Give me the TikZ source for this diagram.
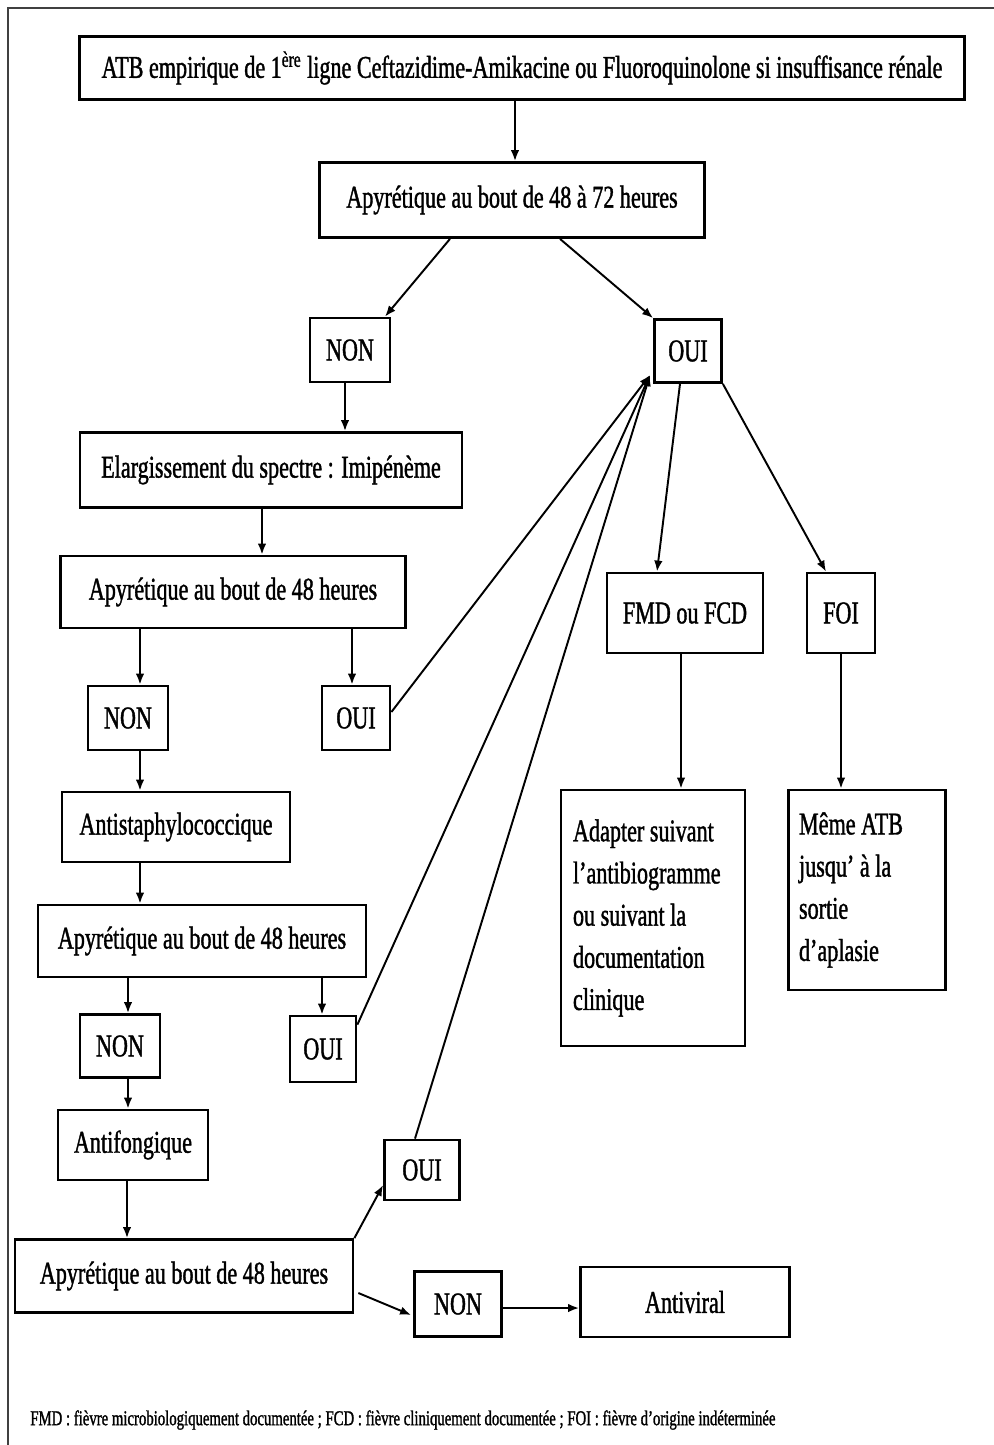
\documentclass[tikz,border=0pt]{standalone}
\usepackage{fontspec}
\setmainfont{Liberation Serif}[FakeStretch=0.7, FakeBold=1.2]
\usetikzlibrary{arrows.meta, calc}

\begin{document}
\begin{tikzpicture}[x=0.02cm, y=-0.02cm,
    box/.style={draw=black, line width=1.6pt, inner sep=2pt, font=\fontsize{18}{24}\selectfont},
    arr/.style={-{Latex[length=2.2mm, width=1.7mm]}, line width=1.1pt}]
	\useasboundingbox (0,0) rectangle (994,1445);
	% Frame
	\draw[line width=1pt, black!75] (8,1445) -- (8,8) -- (994,8);
	% Nodes
	\node[box, minimum width=17.7cm, minimum height=1.26cm] (atb) at (522,68) {ATB empirique de 1\textsuperscript{ère} ligne Ceftazidime-Amikacine ou Fluoroquinolone si insuffisance rénale};
	\node[box, minimum width=7.7cm, minimum height=1.5cm] (apy0) at (512,200) {Apyrétique au bout de 48 à 72 heures};
	\node[box, minimum width=1.6cm, minimum height=1.28cm] (non1) at (350,350) {NON};
	\node[box, minimum width=1.34cm, minimum height=1.26cm] (oui1) at (688,351) {OUI};
	\node[box, minimum width=7.64cm, minimum height=1.5cm] (elarg) at (271,470) {Elargissement du spectre : Imipénème};
	\node[box, minimum width=6.9cm, minimum height=1.44cm] (apy1) at (233,592) {Apyrétique au bout de 48 heures};
	\node[box, minimum width=1.6cm, minimum height=1.28cm] (non2) at (128,718) {NON};
	\node[box, minimum width=1.36cm, minimum height=1.28cm] (oui2) at (356,718) {OUI};
	\node[box, minimum width=4.56cm, minimum height=1.4cm] (antis) at (176,827) {Antistaphylococcique};
	\node[box, minimum width=6.56cm, minimum height=1.44cm] (apy2) at (202,941) {Apyrétique au bout de 48 heures};
	\node[box, minimum width=1.6cm, minimum height=1.26cm] (non3) at (120,1046) {NON};
	\node[box, minimum width=1.32cm, minimum height=1.32cm] (oui3) at (323,1049) {OUI};
	\node[box, minimum width=3.0cm, minimum height=1.4cm] (antif) at (133,1145) {Antifongique};
	\node[box, minimum width=6.76cm, minimum height=1.46cm] (apy3) at (184,1276) {Apyrétique au bout de 48 heures};
	\node[box, minimum width=1.5cm, minimum height=1.2cm] (oui4) at (422,1170) {OUI};
	\node[box, minimum width=1.74cm, minimum height=1.3cm] (non4) at (458,1304) {NON};
	\node[box, minimum width=4.18cm, minimum height=1.4cm] (antiv) at (685,1302) {Antiviral};
	\node[box, minimum width=3.12cm, minimum height=1.6cm] (fmd) at (685,613) {FMD ou FCD};
	\node[box, minimum width=1.36cm, minimum height=1.6cm] (foi) at (841,613) {FOI};
	\node[box, minimum width=3.68cm, minimum height=5.12cm, text width=3.2cm, align=flush left] (adapt) at (653,918) {Adapter suivant\\l'antibiogramme\\ou suivant la\\documentation\\clinique};
	\node[box, minimum width=3.14cm, minimum height=4.0cm, text width=2.72cm, align=flush left] (meme) at (867,890) {Même ATB\\jusqu' à la\\sortie\\d'aplasie};
	\coordinate (hub) at (650,375);
	\node[anchor=west, inner sep=0pt, font=\fontsize{12}{14}\selectfont] (note) at (30,1420) {FMD : fièvre microbiologiquement documentée ; FCD : fièvre cliniquement documentée ; FOI : fièvre d'origine indéterminée};
	% Edges
	\path[arr] ($(atb.south)+(-7,0)$) edge ($(apy0.north)+(3,0)$);
	\path[arr] ($(apy0.south)+(-62,0)$) edge ($(non1.north)+(35,0)$);
	\path[arr] ($(apy0.south)+(48,0)$) edge (oui1.north west);
	\path[arr] ($(non1.south)+(-5,0)$) edge ($(elarg.north)+(74,0)$);
	\path[arr] ($(elarg.south)+(-9,0)$) edge ($(apy1.north)+(29,0)$);
	\path[arr] ($(apy1.south)+(-93,0)$) edge ($(non2.north)+(12,0)$);
	\path[arr] ($(apy1.south)+(119,0)$) edge ($(oui2.north)+(-4,0)$);
	\path[arr] ($(oui2.east)+(0,-6)$) edge (hub);
	\path[arr] ($(non2.south)+(12,0)$) edge ($(antis.north)+(-36,0)$);
	\path[arr] ($(antis.south)+(-36,0)$) edge ($(apy2.north)+(-62,0)$);
	\path[arr] ($(apy2.south)+(-74,0)$) edge ($(non3.north)+(8,0)$);
	\path[arr] ($(apy2.south)+(120,0)$) edge ($(oui3.north)+(-1,0)$);
	\path[arr] ($(oui3.north east)+(0,10)$) edge (hub);
	\path[arr] ($(non3.south)+(8,0)$) edge ($(antif.north)+(-5,0)$);
	\path[arr] ($(antif.south)+(-6,0)$) edge ($(apy3.north)+(-57,0)$);
	\path[arr] (apy3.north east) edge ($(oui4.west)+(0,15)$);
	\path[arr] ($(oui4.north)+(-7,0)$) edge (hub);
	\path[arr] ($(apy3.east)+(4,17)$) edge ($(non4.west)+(-2,11)$);
	\path[arr] ($(non4.east)+(0,4)$) edge ($(antiv.west)+(0,6)$);
	\path[arr] ($(oui1.south)+(-8,0)$) edge ($(fmd.north)+(-28,0)$);
	\path[arr] (oui1.south east) edge ($(foi.north)+(-15,0)$);
	\path[arr] ($(fmd.south)+(-4,0)$) edge ($(adapt.north)+(28,0)$);
	\path[arr] (foi.south) edge ($(meme.north)+(-26,0)$);
\end{tikzpicture}
\end{document}
